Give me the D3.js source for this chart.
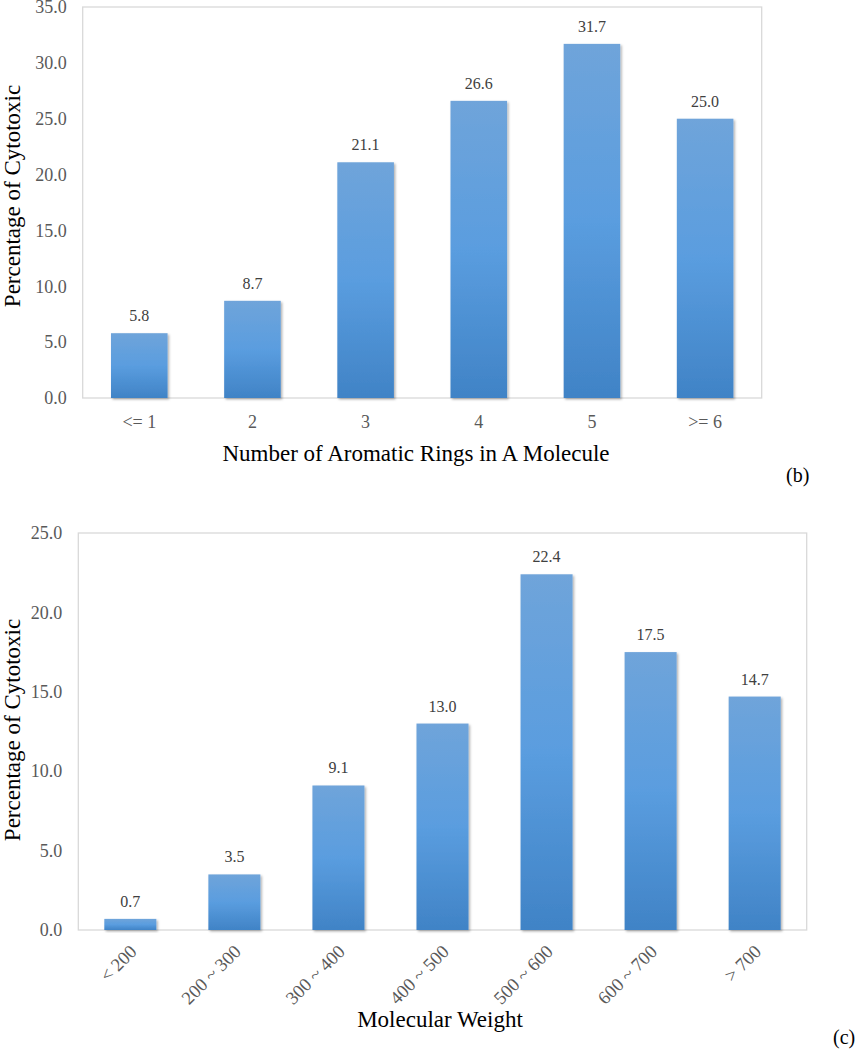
<!DOCTYPE html>
<html>
<head>
<meta charset="utf-8">
<script src="https://cdn.jsdelivr.net/npm/d3@7"></script>
<style>
  html, body { margin: 0; padding: 0; background: #ffffff; }
  svg { display: block; }
  svg text { font-family: "Liberation Serif", "Times New Roman", serif !important; }
</style>
</head>
<body>
<svg id="chart" width="856" height="1050"></svg>
<script>
// ---- Data: chart (b) ----
const ringCategories = ["<= 1", "2", "3", "4", "5", ">= 6"];
const ringValues = [5.8, 8.7, 21.1, 26.6, 31.7, 25.0];
const ringTicks = [0, 5, 10, 15, 20, 25, 30, 35];

// ---- Data: chart (c) ----
const mwCategories = ["< 200", "200 ~ 300", "300 ~ 400", "400 ~ 500", "500 ~ 600", "600 ~ 700", "> 700"];
const mwValues = [0.7, 3.5, 9.1, 13.0, 22.4, 17.5, 14.7];
const mwTicks = [0, 5, 10, 15, 20, 25];

const svg = d3.select("#chart");
const defs = svg.append("defs");

const grad = defs.append("linearGradient")
  .attr("id", "barGrad").attr("x1", 0).attr("y1", 0).attr("x2", 0).attr("y2", 1);
grad.append("stop").attr("offset", "0%").attr("stop-color", "#6fa4da");
grad.append("stop").attr("offset", "50%").attr("stop-color", "#5a9ddf");
grad.append("stop").attr("offset", "100%").attr("stop-color", "#4083c6");

const shadow = defs.append("filter").attr("id", "shadow")
  .attr("x", "-20%").attr("y", "-20%").attr("width", "140%").attr("height", "140%");
shadow.append("feDropShadow").attr("dx", 1.5).attr("dy", 1.5).attr("stdDeviation", 1.2)
  .attr("flood-color", "#000").attr("flood-opacity", 0.3);

const SERIF = "'Liberation Serif', 'Times New Roman', serif";

function drawChart(opts) {
  const { categories, values, ticks, left, right, top, bottom, xTitle, yTitle, panel, rotate } = opts;
  const g = svg.append("g");

  const x = d3.scaleBand().domain(categories).range([left, right]).paddingInner(0.5).paddingOuter(0.25);
  const y = d3.scaleLinear().domain([0, d3.max(ticks)]).range([bottom, top]);

  // plot frame
  g.append("rect")
    .attr("x", left).attr("y", top)
    .attr("width", right - left).attr("height", bottom - top)
    .attr("fill", "none").attr("stroke", "#d9d9d9").attr("stroke-width", 1.3);

  // y axis (labels only)
  const yAxis = d3.axisLeft(y).tickValues(ticks).tickFormat(d3.format(".1f")).tickSize(0).tickPadding(opts.yPad);
  const ya = g.append("g").attr("transform", `translate(${left},0)`).call(yAxis);
  ya.select(".domain").remove();
  ya.attr("font-family", null).attr("font-size", null);
  ya.selectAll("text")
    .style("font-family", SERIF)
    .style("font-size", "18px").attr("fill", "#595959");

  // bars
  g.selectAll(".bar").data(values).enter().append("rect")
    .attr("x", (d, i) => x(categories[i]))
    .attr("y", d => y(d))
    .attr("width", x.bandwidth())
    .attr("height", d => y(0) - y(d))
    .attr("fill", "url(#barGrad)")
    .attr("filter", "url(#shadow)");

  // data labels
  g.selectAll(".lbl").data(values).enter().append("text")
    .attr("x", (d, i) => x(categories[i]) + x.bandwidth() / 2)
    .attr("y", d => y(d) - 12)
    .attr("text-anchor", "middle")
    .style("font-family", SERIF)
    .style("font-size", "16px").attr("fill", "#404040")
    .text(d => d3.format(".1f")(d));

  // x axis labels
  const xAxis = d3.axisBottom(x).tickSize(0).tickPadding(0);
  const xa = g.append("g").attr("transform", `translate(0,${bottom})`).call(xAxis);
  xa.select(".domain").remove();
  xa.attr("font-family", null).attr("font-size", null);
  if (rotate) {
    xa.selectAll("text")
      .style("font-family", SERIF)
      .style("font-size", "18.5px").attr("fill", "#595959")
      .attr("text-anchor", "end")
      .attr("y", 0).attr("dy", "0.35em")
      .attr("transform", "translate(3,18) rotate(-45)");
  } else {
    xa.selectAll("text")
      .style("font-family", SERIF)
      .style("font-size", "18px").attr("fill", "#595959")
      .attr("dy", 0).attr("y", 30);
  }

  // axis titles
  g.append("text")
    .attr("x", opts.xTitleX).attr("y", opts.xTitleY)
    .attr("text-anchor", "middle")
    .style("font-family", SERIF).style("font-size", "23px").attr("fill", "#000")
    .text(xTitle);
  g.append("text")
    .attr("transform", `translate(${opts.yTitleX},${opts.yTitleY}) rotate(-90)`)
    .attr("text-anchor", "middle")
    .style("font-family", SERIF).style("font-size", "23px").attr("fill", "#000")
    .text(yTitle);

  // panel label
  g.append("text")
    .attr("x", opts.panelX).attr("y", opts.panelY)
    .style("font-family", SERIF).style("font-size", "20px").attr("fill", "#000")
    .text(panel);
}

drawChart({
  categories: ringCategories, values: ringValues, ticks: ringTicks,
  left: 82.7, right: 761.7, top: 7, bottom: 398, yPad: 16,
  xTitle: "Number of Aromatic Rings in A Molecule", xTitleX: 416, xTitleY: 461,
  yTitle: "Percentage of Cytotoxic", yTitleX: 20, yTitleY: 196,
  panel: "(b)", panelX: 786, panelY: 482, rotate: false
});

drawChart({
  categories: mwCategories, values: mwValues, ticks: mwTicks,
  left: 78.3, right: 806.7, top: 533, bottom: 930, yPad: 16,
  xTitle: "Molecular Weight", xTitleX: 440, xTitleY: 1027,
  yTitle: "Percentage of Cytotoxic", yTitleX: 20, yTitleY: 730,
  panel: "(c)", panelX: 833, panelY: 1044, rotate: true
});
</script>
</body>
</html>
